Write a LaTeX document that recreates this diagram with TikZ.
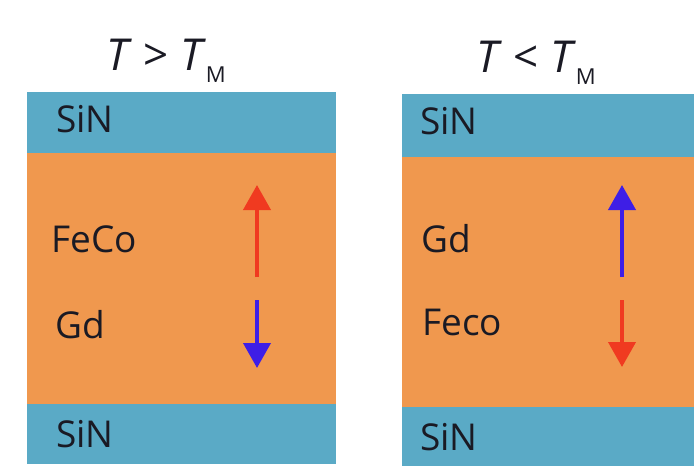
\documentclass[tikz,border=0pt]{standalone}
\usepackage{fontspec}
\setmainfont{Open Sans}
\usetikzlibrary{arrows.meta}
\definecolor{sinblue}{HTML}{5AAAC6}
\definecolor{fecoorange}{HTML}{F0984E}
\definecolor{arrred}{HTML}{F03A20}
\definecolor{arrblue}{HTML}{3E1EE6}
\definecolor{txt}{HTML}{1A1A24}
\tikzset{
  x=1pt, y=-1pt,
  sinlayer/.style={fill=sinblue, draw=none},
  metlayer/.style={fill=fecoorange, draw=none},
  lbl/.style={anchor=base west, inner sep=0pt, text=txt, font=\fontsize{37}{37}\selectfont},
  ttl/.style={anchor=base west, inner sep=0pt, text=txt, font=\fontsize{44}{44}\selectfont},
  spin/.style={line width=4pt, -{Triangle[width=27pt,length=25pt]}},
}
\newcommand{\subM}{\raisebox{-12pt}{\fontsize{22}{22}\selectfont M}}
\begin{document}
\begin{tikzpicture}
\useasboundingbox (0,0) rectangle (694,469);
\fill[white] (0,0) rectangle (694,469);
% left stack
\path[sinlayer] (27,92) rectangle (336,153);
\path[metlayer] (27,153) rectangle (336,404);
\path[sinlayer] (27,404) rectangle (336,464);
% right stack
\path[sinlayer] (402,94) rectangle (694,157);
\path[metlayer] (402,157) rectangle (694,407);
\path[sinlayer] (402,407) rectangle (694,466);
% titles
\node[ttl] (t1) at (106,70) {\textit{T} > \textit{T}\subM};
\node[ttl] (t2) at (476,72) {\textit{T} < \textit{T}\subM};
% labels
\node[lbl] (s1) at (56,132) {SiN};
\node[lbl] (f1) at (51,252) {FeCo};
\node[lbl] (g1) at (55,338) {Gd};
\node[lbl] (s2) at (56,447) {SiN};
\node[lbl] (s3) at (420,134) {SiN};
\node[lbl] (g2) at (421,252) {Gd};
\node[lbl] (f2) at (422,335) {Feco};
\node[lbl] (s4) at (420,450) {SiN};
% spin arrows
\coordinate (a1s) at (257,277); \coordinate (a1e) at (257,185);
\coordinate (b1s) at (257,300); \coordinate (b1e) at (257,368);
\coordinate (a2s) at (622,277); \coordinate (a2e) at (622,185);
\coordinate (b2s) at (622,300); \coordinate (b2e) at (622,367);
\draw[spin, arrred] (a1s) -- (a1e);
\draw[spin, arrblue] (b1s) -- (b1e);
\draw[spin, arrblue] (a2s) -- (a2e);
\draw[spin, arrred] (b2s) -- (b2e);
\end{tikzpicture}
\end{document}
